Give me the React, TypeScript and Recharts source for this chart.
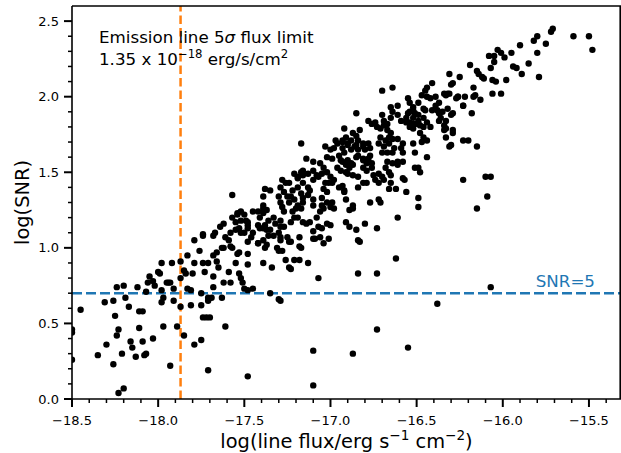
import React from 'react'
import {
  ScatterChart,
  Scatter,
  XAxis,
  YAxis,
  ReferenceLine,
} from 'recharts'

type Pair = [number, number]

// [log flux, log SNR], grouped by flux range
const faintSources: Pair[] = [
  [-18.45, 0.59], [-18.5, 0.46], [-18.5, 0.44], [-18.5, 0.26], [-18.35, 0.29], [-18.3, 0.36], [-18.31, 0.64], [-18.26, 0.65], [-18.24, 0.74], [-18.2, 0.75],
  [-18.19, 0.67], [-18.17, 0.61], [-18.25, 0.55], [-18.24, 0.42], [-18.23, 0.46], [-18.26, 0.23], [-18.21, 0.3], [-18.16, 0.38], [-18.15, 0.34], [-18.13, 0.28],
  [-18.11, 0.47], [-18.11, 0.58], [-18.09, 0.58], [-18.09, 0.38], [-18.08, 0.29], [-18.07, 0.3], [-18.03, 0.4], [-18.23, 0.04], [-18.2, 0.07], [-18.12, 0.74],
  [-18.06, 0.77], [-18.05, 0.81], [-18.07, 0.71], [-18.03, 0.78], [-18.02, 0.75], [-18.0, 0.84], [-17.99, 0.83], [-17.98, 0.9], [-17.98, 0.72], [-17.98, 0.64],
  [-17.97, 0.67], [-17.97, 0.48], [-17.93, 0.22], [-17.92, 0.9], [-17.94, 0.77], [-17.93, 0.77], [-17.91, 0.73], [-17.91, 0.65], [-17.89, 0.48], [-17.87, 0.61],
  [-17.85, 0.42], [-17.87, 0.8], [-17.87, 0.91], [-17.85, 0.85], [-17.84, 0.83], [-17.83, 0.95], [-17.83, 0.73], [-17.81, 0.72], [-17.81, 0.62], [-17.79, 0.36],
  [-17.75, 0.39], [-17.71, 0.19], [-17.72, 0.54], [-17.7, 0.54], [-17.61, 0.48], [-17.48, 0.15], [-17.75, 0.62], [-17.75, 0.7], [-17.71, 0.67], [-17.69, 0.67],
  [-17.68, 0.74], [-17.63, 0.67], [-17.5, 0.73], [-17.48, 0.72], [-17.35, 0.7], [-17.3, 0.66], [-17.79, 0.9], [-17.79, 1.05], [-17.76, 0.98], [-17.73, 0.84],
  [-17.74, 1.08], [-17.71, 0.9], [-17.68, 0.81], [-17.62, 0.77], [-17.58, 0.77], [-17.51, 0.77], [-17.68, 0.95], [-17.66, 0.91], [-17.65, 0.87], [-17.63, 1.0],
  [-17.58, 1.01], [-17.54, 0.96], [-17.55, 0.9], [-17.48, 0.96], [-17.48, 0.89], [-17.42, 1.03], [-17.39, 0.9], [-17.34, 0.87], [-17.31, 1.0], [-17.26, 0.92],
  [-17.24, 0.87], [-17.21, 0.92], [-17.18, 1.01], [-17.13, 0.9], [-17.1, 1.06], [-17.07, 0.8], [-17.37, 1.02], [-17.29, 1.05], [-17.23, 1.04], [-17.18, 1.07],
  [-17.74, 1.09], [-17.68, 1.08], [-17.67, 1.1], [-17.64, 1.14], [-17.62, 1.16], [-17.61, 1.07], [-17.58, 1.1], [-17.55, 1.12], [-17.53, 1.13], [-17.52, 1.1],
  [-17.48, 1.13], [-17.48, 1.15], [-17.54, 1.23], [-17.52, 1.24], [-17.42, 1.15], [-17.41, 1.13], [-17.39, 1.28], [-17.39, 1.23], [-17.37, 1.12], [-17.36, 1.08],
  [-17.29, 1.18], [-17.27, 1.14], [-17.25, 1.07], [-17.59, 1.05], [-17.62, 1.0], [-17.66, 0.97], [-17.57, 1.0], [-17.53, 0.97], [-17.48, 1.04], [-17.46, 1.07],
  [-17.42, 1.03], [-17.38, 1.0], [-17.3, 0.98], [-17.24, 1.04], [-17.74, 0.9], [-17.59, 0.84], [-17.53, 0.83], [-17.52, 0.8], [-17.45, 0.73], [-17.29, 0.65],
  [-17.95, 0.77], [-17.8, 0.83], [-17.71, 0.65], [-17.74, 0.54],
]

const midSources: Pair[] = [
  [-17.17, 1.69], [-17.14, 1.59], [-17.1, 1.57], [-17.06, 1.56], [-17.04, 1.53], [-17.03, 1.67], [-17.0, 1.65], [-16.98, 1.66], [-16.96, 1.69], [-16.93, 1.7],
  [-16.9, 1.69], [-16.95, 1.61], [-16.92, 1.63], [-16.9, 1.58], [-16.88, 1.56], [-16.94, 1.51], [-16.91, 1.5], [-16.9, 1.49], [-16.85, 1.68], [-16.81, 1.67],
  [-16.8, 1.65], [-16.77, 1.66], [-16.84, 1.61], [-16.81, 1.59], [-16.77, 1.61], [-16.81, 1.53], [-16.79, 1.51], [-16.76, 1.53], [-16.84, 1.47], [-16.81, 1.43],
  [-16.79, 1.43], [-16.84, 1.4], [-16.74, 1.45], [-16.72, 1.43], [-16.98, 1.45], [-16.95, 1.4], [-16.92, 1.37], [-16.91, 1.32], [-17.0, 1.47], [-16.99, 1.43],
  [-17.02, 1.5], [-17.05, 1.49], [-17.07, 1.47], [-17.1, 1.51], [-17.08, 1.48], [-17.1, 1.45], [-17.13, 1.49], [-17.16, 1.48], [-17.19, 1.47], [-17.16, 1.51],
  [-17.17, 1.5], [-17.21, 1.49], [-17.19, 1.46], [-17.16, 1.43], [-17.13, 1.4], [-17.12, 1.38], [-17.13, 1.35], [-17.1, 1.32], [-17.1, 1.28], [-17.19, 1.4],
  [-17.17, 1.36], [-17.16, 1.33], [-17.16, 1.3], [-17.22, 1.38], [-17.23, 1.34], [-17.21, 1.32], [-17.19, 1.28], [-17.17, 1.26], [-17.28, 1.45], [-17.26, 1.43],
  [-17.24, 1.43], [-17.29, 1.4], [-17.27, 1.37], [-17.25, 1.34], [-17.24, 1.3], [-17.3, 1.34], [-17.29, 1.3], [-17.28, 1.27], [-17.27, 1.24], [-17.38, 1.39],
  [-17.35, 1.38], [-17.39, 1.34], [-17.39, 1.26], [-17.37, 1.25], [-17.42, 1.24], [-17.41, 1.2], [-17.45, 1.24], [-17.54, 1.22], [-17.57, 1.2], [-17.55, 1.17],
  [-17.52, 1.18], [-17.49, 1.18], [-17.48, 1.17], [-17.5, 1.22], [-17.5, 1.1], [-17.45, 1.1], [-17.39, 1.13], [-17.38, 1.15], [-17.36, 1.18], [-17.33, 1.2],
  [-17.32, 1.16], [-17.29, 1.14], [-17.35, 1.12], [-17.33, 1.08], [-17.3, 1.1], [-17.23, 1.17], [-17.21, 1.2], [-17.22, 1.24], [-17.2, 1.26], [-17.19, 1.2],
  [-17.16, 1.17], [-17.14, 1.16], [-17.12, 1.17], [-17.08, 1.2], [-17.06, 1.24], [-17.04, 1.26], [-17.02, 1.3], [-17.0, 1.27], [-17.05, 1.28], [-17.02, 1.16],
  [-17.0, 1.15], [-17.09, 1.06], [-17.06, 1.07], [-17.07, 1.14], [-17.05, 1.13], [-16.89, 1.25], [-16.91, 1.17], [-16.87, 1.28], [-16.85, 1.12], [-16.84, 1.05],
  [-16.8, 1.16], [-16.77, 1.3], [-16.72, 1.32], [-16.73, 1.13], [-17.17, 1.0], [-17.57, 1.35], [-17.29, 1.07], [-17.39, 1.05],
]

const brightSources: Pair[] = [
  [-16.7, 2.04], [-16.85, 1.89], [-16.78, 1.84], [-16.76, 1.82], [-16.74, 1.83], [-16.65, 1.93], [-16.61, 1.94], [-16.64, 1.9], [-16.7, 1.88], [-16.69, 1.84],
  [-16.67, 1.82], [-16.65, 1.86], [-16.61, 1.88], [-16.59, 1.84], [-16.56, 1.86], [-16.55, 1.89], [-16.52, 1.91], [-16.49, 1.88], [-16.55, 1.99], [-16.54, 1.96],
  [-16.49, 1.96], [-16.47, 2.01], [-16.44, 2.0], [-16.42, 1.99], [-16.39, 2.0], [-16.39, 1.94], [-16.41, 1.91], [-16.37, 1.89], [-16.35, 1.9], [-16.32, 1.92],
  [-16.36, 1.86], [-16.33, 1.84], [-16.3, 1.88], [-16.29, 1.89], [-16.33, 2.01], [-16.31, 2.02], [-16.26, 2.0], [-16.22, 2.0], [-16.23, 1.94], [-16.56, 1.83],
  [-16.54, 1.83], [-16.52, 1.82], [-16.49, 1.82], [-16.54, 1.8], [-16.52, 1.79], [-16.48, 1.81], [-16.48, 1.76], [-16.46, 1.73], [-16.44, 1.71], [-16.33, 1.79],
  [-16.29, 1.76], [-16.33, 1.73], [-16.3, 1.68], [-16.23, 1.71], [-16.2, 1.71], [-16.73, 1.8], [-16.71, 1.79], [-16.69, 1.81], [-16.67, 1.78], [-16.65, 1.76],
  [-16.71, 1.73], [-16.68, 1.71], [-16.66, 1.73], [-16.64, 1.72], [-16.61, 1.72], [-16.72, 1.69], [-16.69, 1.67], [-16.66, 1.69], [-16.63, 1.66], [-16.7, 1.63],
  [-16.67, 1.63], [-16.64, 1.63], [-16.58, 1.63], [-16.59, 1.66], [-16.52, 1.69], [-16.51, 1.63], [-16.44, 1.6], [-16.85, 1.74], [-16.84, 1.71], [-16.83, 1.78],
  [-16.87, 1.76], [-16.88, 1.71], [-16.91, 1.73], [-16.93, 1.71], [-16.97, 1.71], [-16.93, 1.66], [-16.9, 1.68], [-16.88, 1.65], [-16.86, 1.67], [-16.84, 1.65],
  [-16.81, 1.69], [-16.78, 1.69], [-16.85, 1.6], [-16.81, 1.58], [-16.78, 1.59], [-16.79, 1.56], [-16.76, 1.56], [-17.02, 1.6], [-16.99, 1.59], [-16.94, 1.58],
  [-16.93, 1.57], [-16.91, 1.55], [-16.89, 1.53], [-16.87, 1.55], [-16.96, 1.53], [-16.87, 1.48], [-17.03, 1.43], [-17.01, 1.43], [-17.04, 1.39], [-17.02, 1.37],
  [-17.05, 1.33], [-16.93, 1.41], [-16.92, 1.38], [-16.75, 1.48], [-16.72, 1.49], [-16.68, 1.53], [-16.66, 1.5], [-16.65, 1.48], [-16.67, 1.57], [-16.64, 1.56],
  [-16.61, 1.57], [-16.58, 1.57], [-16.7, 1.47], [-16.69, 1.45], [-16.65, 1.43], [-16.58, 1.46], [-16.51, 1.53], [-16.48, 1.5], [-16.66, 1.39], [-16.62, 1.39],
  [-16.56, 1.37], [-16.49, 1.33], [-16.49, 1.27], [-16.71, 1.3], [-16.87, 1.26], [-16.99, 1.3], [-16.98, 1.26], [-16.23, 1.45], [-16.61, 1.2], [-16.58, 1.69],
]

const brightestSources: Pair[] = [
  [-15.9, 2.34], [-15.82, 2.37], [-15.75, 2.35], [-15.8, 2.29], [-15.85, 2.22], [-15.79, 2.13], [-15.89, 2.15], [-16.03, 2.31], [-16.08, 2.27], [-16.05, 2.27],
  [-16.01, 2.29], [-16.05, 2.23], [-16.07, 2.19], [-15.94, 2.2], [-15.92, 2.19], [-15.98, 2.11], [-16.19, 2.21], [-16.15, 2.17], [-16.14, 2.15], [-16.12, 2.13],
  [-16.11, 2.12], [-16.06, 2.11], [-16.04, 2.1], [-16.06, 2.02], [-16.01, 2.02], [-16.31, 2.15], [-16.25, 2.13], [-16.29, 2.09], [-16.3, 2.08], [-16.41, 2.09],
  [-16.44, 2.06], [-16.45, 2.04], [-16.17, 2.06], [-16.34, 2.02], [-16.32, 2.02], [-16.27, 1.99], [-16.26, 2.0], [-16.17, 2.0], [-16.16, 2.01], [-16.13, 1.98],
  [-16.37, 1.96], [-16.23, 1.94], [-16.52, 1.93], [-16.46, 1.92], [-16.45, 1.91], [-16.38, 1.91], [-16.18, 1.89], [-16.54, 1.9], [-16.51, 1.89], [-16.52, 1.86],
  [-16.49, 1.84], [-16.51, 1.82], [-16.46, 1.86], [-16.44, 1.83], [-16.37, 1.84], [-16.34, 1.81], [-16.42, 1.8], [-16.46, 1.8], [-16.29, 1.78], [-16.34, 1.78],
  [-16.47, 1.7], [-16.31, 1.67], [-16.15, 1.67], [-16.49, 1.53],
  [-15.71, 2.45], [-15.72, 2.43], [-15.59, 2.4], [-15.5, 2.4], [-15.48, 2.31], [-15.8, 2.4], [-15.95, 2.29], [-15.99, 2.26],
  [-16.1, 1.47], [-16.07, 1.47], [-16.09, 1.34], [-16.15, 1.26], [-16.57, 1.45], [-16.61, 1.55], [-16.92, 1.79], [-16.64, 2.06],
]

// sources well below the main relation
const scatteredSources: Pair[] = [
  [-17.28, 0.98], [-17.18, 0.92], [-17.23, 0.86], [-16.84, 0.83], [-16.73, 0.83], [-16.62, 0.93], [-16.73, 0.46], [-17.1, 0.32], [-16.87, 0.3], [-16.55, 0.34],
  [-16.38, 0.63], [-16.07, 0.74], [-17.1, 0.09], [-17.04, 1.03], [-17.01, 1.06], [-16.83, 1.04], [-17.1, 1.11], [-16.89, 1.14],
]

const fluxLimit = -17.87 // log10(1.35e-18)
const snrCut = 0.699 // log10(5)

const xDomain: [number, number] = [-18.5, -15.314]
const yDomain: [number, number] = [0, 2.6]
const xMajorTicks = [-18.5, -18.0, -17.5, -17.0, -16.5, -16.0, -15.5]
const xTicks = [
  -18.5, -18.4, -18.3, -18.2, -18.1, -18.0, -17.9, -17.8, -17.7, -17.6, -17.5, -17.4, -17.3, -17.2, -17.1, -17.0,
  -16.9, -16.8, -16.7, -16.6, -16.5, -16.4, -16.3, -16.2, -16.1, -16.0, -15.9, -15.8, -15.7, -15.6, -15.5, -15.4,
]
const yMajorTicks = [0, 0.5, 1.0, 1.5, 2.0, 2.5]
const yTicks = [
  0, 0.1, 0.2, 0.3, 0.4, 0.5, 0.6, 0.7, 0.8, 0.9, 1.0, 1.1, 1.2, 1.3, 1.4, 1.5, 1.6, 1.7, 1.8, 1.9, 2.0, 2.1, 2.2, 2.3, 2.4, 2.5,
]

const data = [...faintSources, ...midSources, ...brightSources, ...brightestSources, ...scatteredSources].map(
  ([flux, snr]) => ({ flux, snr })
)

const FONT = 'DejaVu Sans'
const isMajor = (list: number[], v: number) => list.some(m => Math.abs(m - v) < 1e-6)
const fmt = (v: number) => v.toFixed(1).replace('-', '\u2212')

function XTick({ x, y, payload }: any) {
  const major = isMajor(xMajorTicks, payload.value)
  return (
    <g>
      <line x1={x} x2={x} y1={y} y2={y + (major ? 8 : 4)} stroke="#000" strokeWidth={major ? 2 : 1.5} />
      {major && (
        <text x={x} y={y + 26} textAnchor="middle" fontSize={13} fontFamily={FONT} fill="#000">
          {fmt(payload.value)}
        </text>
      )}
    </g>
  )
}

function YTick({ x, y, payload }: any) {
  const major = isMajor(yMajorTicks, payload.value)
  return (
    <g>
      <line x1={x - (major ? 8 : 4)} x2={x} y1={y} y2={y} stroke="#000" strokeWidth={major ? 2 : 1.5} />
      {major && (
        <text x={x - 13} y={y + 4.5} textAnchor="end" fontSize={13} fontFamily={FONT} fill="#000">
          {payload.value.toFixed(1)}
        </text>
      )}
    </g>
  )
}

const spine = { stroke: '#000', strokeWidth: 1.6 }

export default function App() {
  return (
    <div style={{ position: 'absolute', left: 0, top: 0, width: 621, height: 453, background: '#fff' }}>
      <ScatterChart width={621} height={453} margin={{ top: 6, right: 0, bottom: 0, left: 0 }}>
        <XAxis
          type="number"
          dataKey="flux"
          domain={xDomain}
          allowDataOverflow
          ticks={xTicks}
          interval={0}
          height={54}
          tickSize={0}
          tickMargin={0}
          tickLine={false}
          axisLine={spine}
          tick={XTick}
          label={(props: any) => {
            const vb = props.viewBox
            return (
              <text x={vb.x + vb.width / 2} y={vb.y + 49} textAnchor="middle" fontSize={19.4} fontFamily={FONT} fill="#000">
                log(line flux/erg s<tspan dy={-8} fontSize={13.6}>−1</tspan>
                <tspan dy={8}> cm</tspan>
                <tspan dy={-8} fontSize={13.6}>−2</tspan>
                <tspan dy={8}>)</tspan>
              </text>
            )
          }}
        />
        <YAxis
          type="number"
          dataKey="snr"
          domain={yDomain}
          allowDataOverflow
          ticks={yTicks}
          interval={0}
          width={72}
          tickSize={0}
          tickMargin={0}
          tickLine={false}
          axisLine={spine}
          tick={YTick}
          label={(props: any) => {
            const vb = props.viewBox
            const cy = vb.y + vb.height / 2
            return (
              <text
                transform={`translate(28.5, ${cy}) rotate(-90)`}
                textAnchor="middle"
                fontSize={19.4}
                fontFamily={FONT}
                fill="#000"
              >
                log(SNR)
              </text>
            )
          }}
        />
        <Scatter
          data={data}
          isAnimationActive={false}
          shape={(p: any) => <circle cx={p.cx} cy={p.cy} r={3.2} fill="#000" />}
        />
        <ReferenceLine
          y={snrCut}
          stroke="#1f77b4"
          strokeWidth={2.5}
          strokeDasharray="10 4"
          label={(props: any) => {
            const vb = props.viewBox
            return (
              <text x={vb.x + vb.width - 26} y={vb.y - 6} textAnchor="end" fontSize={16.7} fontFamily={FONT} fill="#1f77b4">
                SNR=5
              </text>
            )
          }}
        />
        <ReferenceLine x={fluxLimit} stroke="#ff7f0e" strokeWidth={2.5} strokeDasharray="8.5 4" />
      </ScatterChart>
      <svg width={621} height={453} style={{ position: 'absolute', left: 0, top: 0, pointerEvents: 'none' }}>
        {/* top and right spines of the axes box */}
        <line x1={72} x2={621} y1={6} y2={6} stroke="#000" strokeWidth={1.6} />
        <line x1={620.2} x2={620.2} y1={6} y2={399} stroke="#000" strokeWidth={1.6} />
        <text x={99} y={43} fontSize={16.7} fontFamily={FONT} fill="#000">
          Emission line 5<tspan fontStyle="italic">σ</tspan> flux limit
        </text>
        <text x={99} y={65} fontSize={16.7} fontFamily={FONT} fill="#000">
          1.35 x 10<tspan dy={-7} fontSize={11.7}>−18</tspan>
          <tspan dy={7}> erg/s/cm</tspan>
          <tspan dy={-7} fontSize={11.7}>2</tspan>
        </text>
      </svg>
    </div>
  )
}
